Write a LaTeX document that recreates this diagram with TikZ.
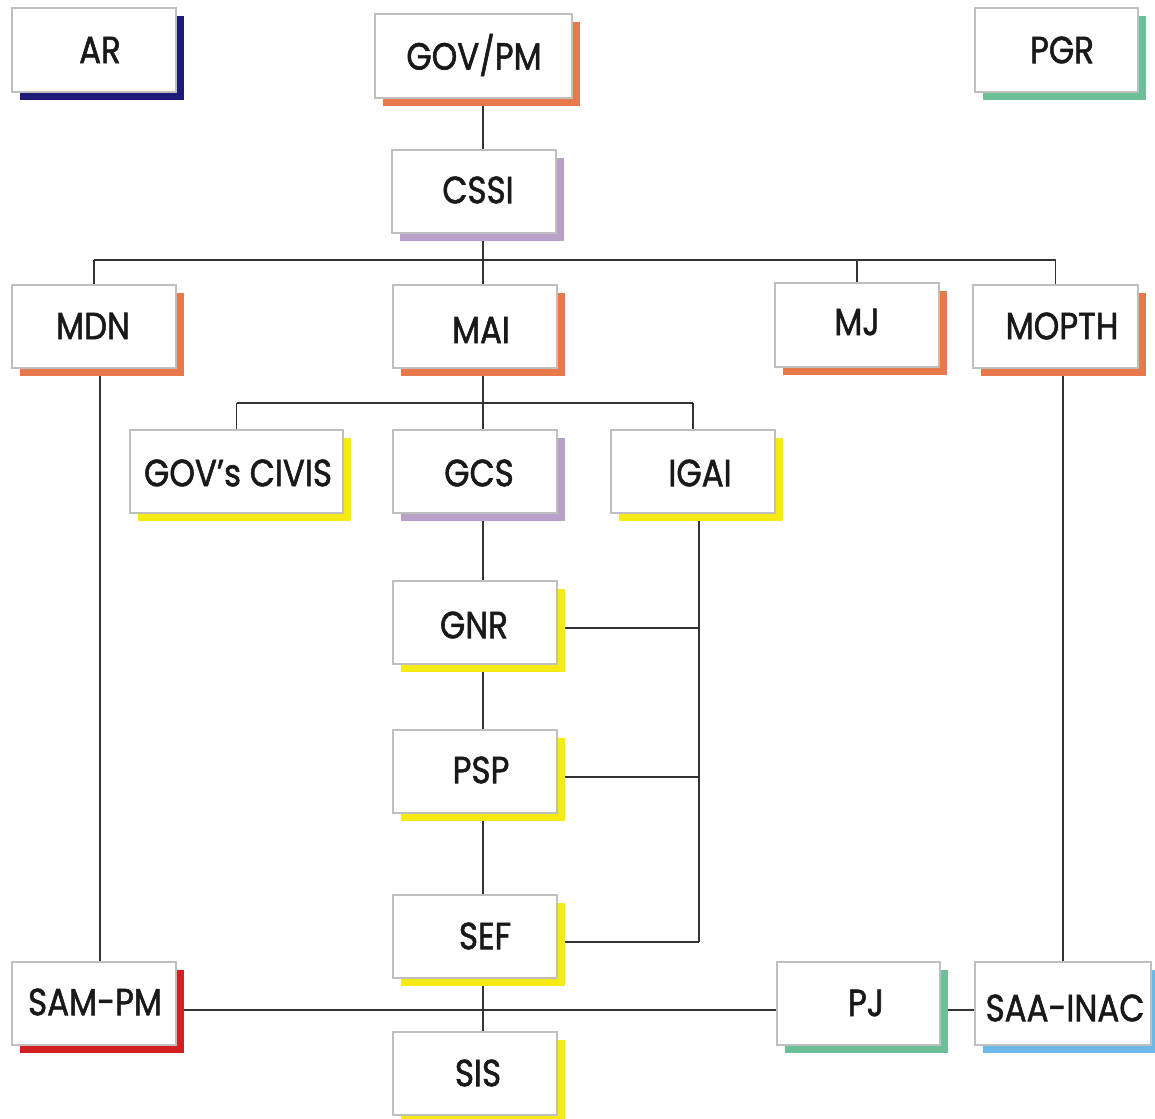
\documentclass[tikz,border=0pt]{standalone}
\usepackage{fontspec}
\setmainfont{Poppins}[FakeBold=1.6]
\usetikzlibrary{shadows,backgrounds}
\definecolor{cnavy}{HTML}{1E1A78}
\definecolor{corange}{HTML}{E8794A}
\definecolor{cgreen}{HTML}{6DBF9A}
\definecolor{clilac}{HTML}{B9A0C8}
\definecolor{cyellow}{HTML}{F5EA14}
\definecolor{cred}{HTML}{D42020}
\definecolor{cblue}{HTML}{6CB8E6}
\tikzset{
  orgbox/.style={draw=black!25, line width=1.2pt, fill=white, inner sep=0pt,
    general shadow={fill=#1, shadow xshift=8pt, shadow yshift=-8pt}},
  lbl/.style={font=\fontsize{35}{38}\selectfont, text=black!90, inner sep=0pt, xscale=0.93, yscale=1.08},
  conn/.style={line width=1.3pt, draw=black!80}
}
% \mkbox{name}{x1}{y1}{x2}{y2}{colour}{text}{tx}{ty}
\newcommand{\mkbox}[9]{%
  \node[orgbox=#6, minimum width={#4-#2}, minimum height={#5-#3}] (#1) at ({(#2+#4)/2},{(#3+#5)/2}) {};
  \node[lbl] (#1-t) at (#8,#9) {#7};
}
\begin{document}
\begin{tikzpicture}[x=1pt,y=-1pt]
\useasboundingbox (0,0) rectangle (1155,1118);
\mkbox{ar}{12}{8}{176}{92}{cnavy}{AR}{100}{50}
\mkbox{gov}{375}{14}{572}{98}{corange}{GOV/PM}{474}{55}
\mkbox{pgr}{975}{8}{1138}{92}{cgreen}{PGR}{1062}{50}
\mkbox{cssi}{392}{150}{556}{233}{clilac}{CSSI}{478}{190}
\mkbox{mdn}{12}{285}{176}{368}{corange}{MDN}{93}{326}
\mkbox{mai}{393}{285}{557}{368}{corange}{MAI}{481}{330}
\mkbox{mj}{775}{283}{939}{367}{corange}{MJ}{857}{322}
\mkbox{mopth}{973}{285}{1138}{368}{corange}{MOPTH}{1062}{326}
\mkbox{civis}{130}{430}{343}{513}{cyellow}{GOV's CIVIS}{238}{473}
\mkbox{gcs}{393}{430}{557}{513}{clilac}{GCS}{479}{473}
\mkbox{igai}{611}{430}{775}{513}{cyellow}{IGAI}{700}{473}
\mkbox{gnr}{393}{581}{557}{664}{cyellow}{GNR}{474}{625}
\mkbox{psp}{393}{730}{557}{813}{cyellow}{PSP}{481}{770}
\mkbox{sef}{393}{895}{557}{978}{cyellow}{SEF}{485}{936}
\mkbox{sis}{393}{1032}{557}{1115}{cyellow}{SIS}{478}{1073}
\mkbox{sam}{12}{962}{176}{1045}{cred}{SAM-PM}{95}{1002}
\mkbox{pj}{777}{962}{940}{1045}{cgreen}{PJ}{866}{1003}
\mkbox{saa}{975}{962}{1151}{1045}{cblue}{SAA-INAC}{1065}{1008}
\coordinate (bar1) at (483,260);
\coordinate (bar2) at (483,403);
\begin{scope}[on background layer]
\draw[conn] (gov.south -| bar1) -- (cssi.north -| bar1);
\draw[conn] (cssi.south -| bar1) -- (bar1);
\draw[conn] (mdn.north |- bar1) -- (mopth.north |- bar1);
\draw[conn] (bar1) -- (mai.north -| bar1);
\draw[conn] (mdn.north |- bar1) -- (mdn.north);
\draw[conn] (mj.north |- bar1) -- (mj.north);
\draw[conn] (mopth.north |- bar1) -- (mopth.north);
\draw[conn] (mai.south -| bar2) -- (bar2);
\draw[conn] (civis.north |- bar2) -- (igai.north |- bar2);
\draw[conn] (civis.north |- bar2) -- (civis.north);
\draw[conn] (bar2) -- (gcs.north -| bar2);
\draw[conn] (igai.north |- bar2) -- (igai.north);
\draw[conn] (gcs.south -| bar2) -- (gnr.north -| bar2);
\draw[conn] (gnr.south -| bar2) -- (psp.north -| bar2);
\draw[conn] (psp.south -| bar2) -- (sef.north -| bar2);
\draw[conn] (sef.south -| bar2) -- (sis.north -| bar2);
\coordinate (ig1) at (699,628);
\coordinate (ig2) at (699,777);
\coordinate (ig3) at (699,942);
\draw[conn] (igai.south -| ig1) -- (ig3);
\draw[conn] (gnr.east |- ig1) -- (ig1);
\draw[conn] (psp.east |- ig2) -- (ig2);
\draw[conn] (sef.east |- ig3) -- (ig3);
\draw[conn] (mdn.south -| 100,0) -- (sam.north -| 100,0);
\draw[conn] (mopth.south -| 1063,0) -- (saa.north -| 1063,0);
\coordinate (hb) at (0,1010);
\draw[conn] (sam.east |- hb) -- (pj.west |- hb);
\draw[conn] (pj.east |- hb) -- (saa.west |- hb);
\end{scope}
\end{tikzpicture}
\end{document}
